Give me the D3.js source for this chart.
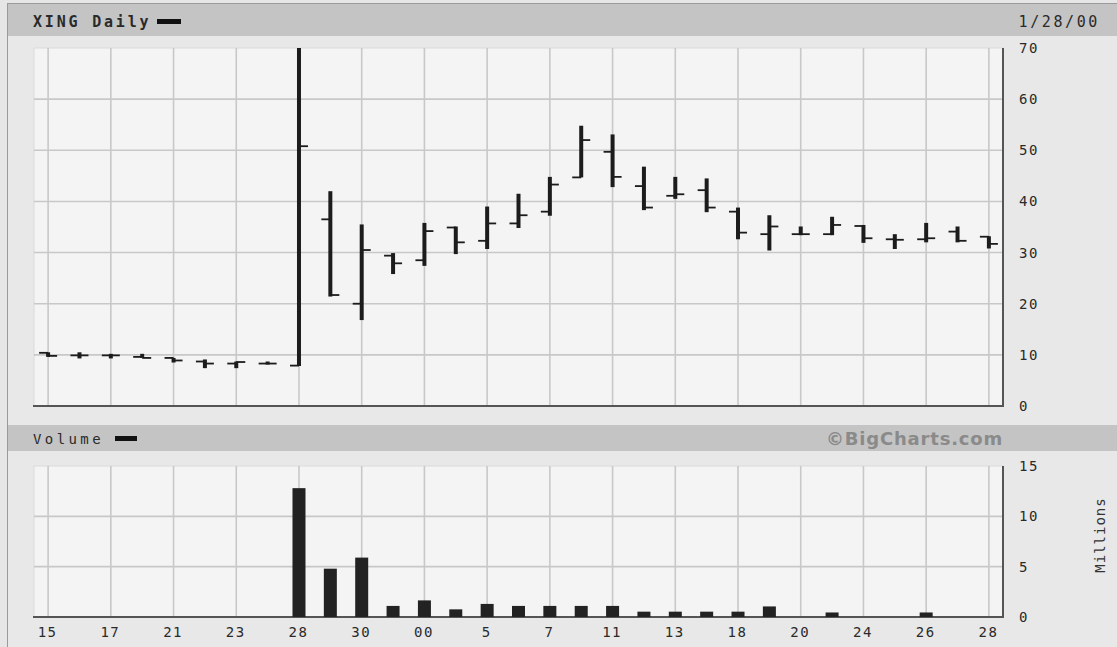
<!DOCTYPE html>
<html><head><meta charset="utf-8">
<script src="https://cdn.jsdelivr.net/npm/d3@7"></script>
<style>
html,body{margin:0;padding:0;background:#e6e6e6;}
svg{display:block;}
.ax text{font-family:"DejaVu Sans Mono",monospace;font-size:14px;fill:#2a2a2a;letter-spacing:1.5px;}
</style></head><body>
<script>
// ---- data ----
const dates = ["Dec 15","Dec 16","Dec 17","Dec 20","Dec 21","Dec 22","Dec 23","Dec 27","Dec 28","Dec 29","Dec 30","Dec 31",
  "Jan 3","Jan 4","Jan 5","Jan 6","Jan 7","Jan 10","Jan 11","Jan 12","Jan 13","Jan 14","Jan 18","Jan 19","Jan 20","Jan 21",
  "Jan 24","Jan 25","Jan 26","Jan 27","Jan 28"];
const openP  = [10.4, 9.9, 9.9, 9.6, 9.4, 8.7, 8.3, 8.3, 7.9, 36.5, 20.0, 29.4, 28.5, 34.9, 32.3, 35.7, 38.0, 44.7, 49.7, 43.0, 41.1, 42.2, 38.0, 33.6, 33.6, 33.6, 35.2, 32.6, 32.6, 34.1, 33.1];
const highP  = [10.5, 10.5, 10.2, 10.2, 9.4, 9.1, 8.7, 8.7, 70.0, 42.0, 35.5, 29.9, 35.8, 35.1, 39.0, 41.5, 44.8, 54.8, 53.1, 46.8, 44.8, 44.5, 38.8, 37.3, 35.1, 37.0, 35.4, 33.6, 35.8, 35.1, 33.2];
const lowP   = [9.6, 9.3, 9.3, 9.4, 8.5, 7.4, 7.4, 8.1, 7.8, 21.4, 16.8, 25.8, 27.4, 29.7, 30.7, 34.8, 37.2, 44.7, 42.8, 38.3, 40.5, 37.9, 32.6, 30.4, 33.4, 33.4, 31.9, 30.7, 32.0, 32.0, 30.8];
const closeP = [9.8, 9.9, 9.9, 9.4, 8.9, 8.3, 8.6, 8.3, 50.8, 21.7, 30.5, 27.9, 34.2, 32.0, 35.7, 37.3, 43.3, 52.0, 44.8, 38.8, 41.4, 38.8, 33.9, 35.1, 33.6, 35.4, 32.8, 32.5, 32.8, 32.3, 31.7];
const volume = [0, 0, 0, 0, 0, 0, 0, 0, 12.8, 4.8, 5.9, 1.1, 1.65, 0.76, 1.3, 1.1, 1.1, 1.1, 1.1, 0.53, 0.53, 0.53, 0.53, 1.05, 0, 0.45, 0, 0, 0.45, 0, 0];
const xTickLabels = ["15","17","21","23","28","30","00","5","7","11","13","18","20","24","26","28"];
const priceTicks = [0,10,20,30,40,50,60,70];
const volTicks = [0,5,10,15];
const title = "XING Daily";
const dateLabel = "1/28/00";

// ---- layout ----
const W = 1117, H = 647;
const L = 34, R = 1003;
const pTop = 48, pBot = 406;
const vTop = 466, vBot = 617;

const svg = d3.select("body").append("svg").attr("width", W).attr("height", H);

// frame & headers
svg.append("rect").attr("x",0).attr("y",0).attr("width",W).attr("height",H).attr("fill","#e6e6e6");
svg.append("rect").attr("x",7.5).attr("y",3.5).attr("width",W-7).attr("height",H).attr("fill","#e8e8e8").attr("stroke","#9a9a9a");
svg.append("rect").attr("x",8).attr("y",4).attr("width",W-8).attr("height",32).attr("fill","#c4c4c4");
svg.append("rect").attr("x",8).attr("y",425).attr("width",W-8).attr("height",26).attr("fill","#c4c4c4");

const idx = d3.range(dates.length);
const x = d3.scalePoint().domain(idx).range([L, R]).padding(0.45);
const yP = d3.scaleLinear().domain([0,70]).range([pBot, pTop]);
const yV = d3.scaleLinear().domain([0,15]).range([vBot, vTop]);

function panel(yTop, yBot, yScale, hTicks) {
  const g = svg.append("g");
  g.append("rect").attr("x",L).attr("y",yTop).attr("width",R-L).attr("height",yBot-yTop).attr("fill","#f4f4f4")
   .attr("stroke","#dadada");
  g.selectAll(".vg").data(idx.filter(i => i % 2 === 0)).join("line")
   .attr("x1", i => x(i)).attr("x2", i => x(i)).attr("y1", yTop).attr("y2", yBot)
   .attr("stroke","#c8c8c8").attr("stroke-width",1.6);
  g.selectAll(".hg").data(hTicks).join("line")
   .attr("x1", L).attr("x2", R).attr("y1", d => yScale(d)).attr("y2", d => yScale(d))
   .attr("stroke","#c8c8c8").attr("stroke-width",1.6);
  g.append("line").attr("x1",L-1).attr("x2",R+1).attr("y1",yBot).attr("y2",yBot).attr("stroke","#555").attr("stroke-width",2);
  g.append("line").attr("x1",R).attr("x2",R).attr("y1",yTop).attr("y2",yBot).attr("stroke","#555").attr("stroke-width",2);
  return g;
}
panel(pTop, pBot, yP, [10,20,30,40,50,60]);
panel(vTop, vBot, yV, [5,10]);

// OHLC bars
const gb = svg.append("g");
gb.selectAll(".hl").data(idx).join("line")
  .attr("x1", i => x(i)).attr("x2", i => x(i))
  .attr("y1", i => yP(highP[i])).attr("y2", i => yP(lowP[i]))
  .attr("stroke","#1c1c1c").attr("stroke-width",4);
gb.selectAll(".op").data(idx).join("line")
  .attr("x1", i => x(i) - 9).attr("x2", i => x(i))
  .attr("y1", i => yP(openP[i])).attr("y2", i => yP(openP[i]))
  .attr("stroke","#1c1c1c").attr("stroke-width",1.8);
gb.selectAll(".cl").data(idx).join("line")
  .attr("x1", i => x(i)).attr("x2", i => x(i) + 9)
  .attr("y1", i => yP(closeP[i])).attr("y2", i => yP(closeP[i]))
  .attr("stroke","#1c1c1c").attr("stroke-width",1.8);

// volume bars
svg.append("g").selectAll("rect").data(idx.filter(i => volume[i] > 0)).join("rect")
  .attr("x", i => x(i) - 6.5).attr("width", 13)
  .attr("y", i => yV(volume[i])).attr("height", i => vBot - yV(volume[i]))
  .attr("fill","#222");

// axes
const axP = svg.append("g").attr("class","ax").attr("transform",`translate(${R+16},0)`)
  .call(d3.axisRight(yP).tickValues(priceTicks).tickSize(0).tickPadding(0));
axP.select(".domain").remove();
const axV = svg.append("g").attr("class","ax").attr("transform",`translate(${R+16},0)`)
  .call(d3.axisRight(yV).tickValues(volTicks).tickSize(0).tickPadding(0));
axV.select(".domain").remove();
const evenIdx = idx.filter(i => i % 2 === 0);
const axX = svg.append("g").attr("class","ax").attr("transform",`translate(-1,${vBot+4})`)
  .call(d3.axisBottom(x).tickValues(evenIdx).tickSize(0).tickPadding(6)
        .tickFormat(i => xTickLabels[evenIdx.indexOf(i)]));
axX.select(".domain").remove();

// header texts
const mono = "DejaVu Sans Mono, monospace";
svg.append("text").attr("x",33).attr("y",27).text(title)
  .attr("font-family",mono).attr("font-size",15).attr("font-weight","bold").attr("letter-spacing",2.8).attr("fill","#2a2a2a");
svg.append("rect").attr("x",157).attr("y",19).attr("width",24).attr("height",5).attr("fill","#111");
svg.append("text").attr("x",1100).attr("y",27).attr("text-anchor","end").text(dateLabel)
  .attr("font-family",mono).attr("font-size",15).attr("letter-spacing",2.6).attr("fill","#2a2a2a");
svg.append("text").attr("x",33).attr("y",444).text("Volume")
  .attr("font-family",mono).attr("font-size",14).attr("letter-spacing",3.4).attr("fill","#2a2a2a");
svg.append("rect").attr("x",115).attr("y",436).attr("width",22).attr("height",5).attr("fill","#111");
svg.append("text").attr("x",1003).attr("y",445).attr("text-anchor","end").text("©BigCharts.com")
  .attr("font-family","Verdana, DejaVu Sans, sans-serif").attr("font-weight","bold").attr("font-size",18).attr("letter-spacing",0.8).attr("fill","#8a8a8a");
svg.append("text").attr("transform","translate(1105,535) rotate(-90)").attr("text-anchor","middle").text("Millions")
  .attr("font-family",mono).attr("font-size",14).attr("letter-spacing",1).attr("fill","#333");
</script>
</body></html>
